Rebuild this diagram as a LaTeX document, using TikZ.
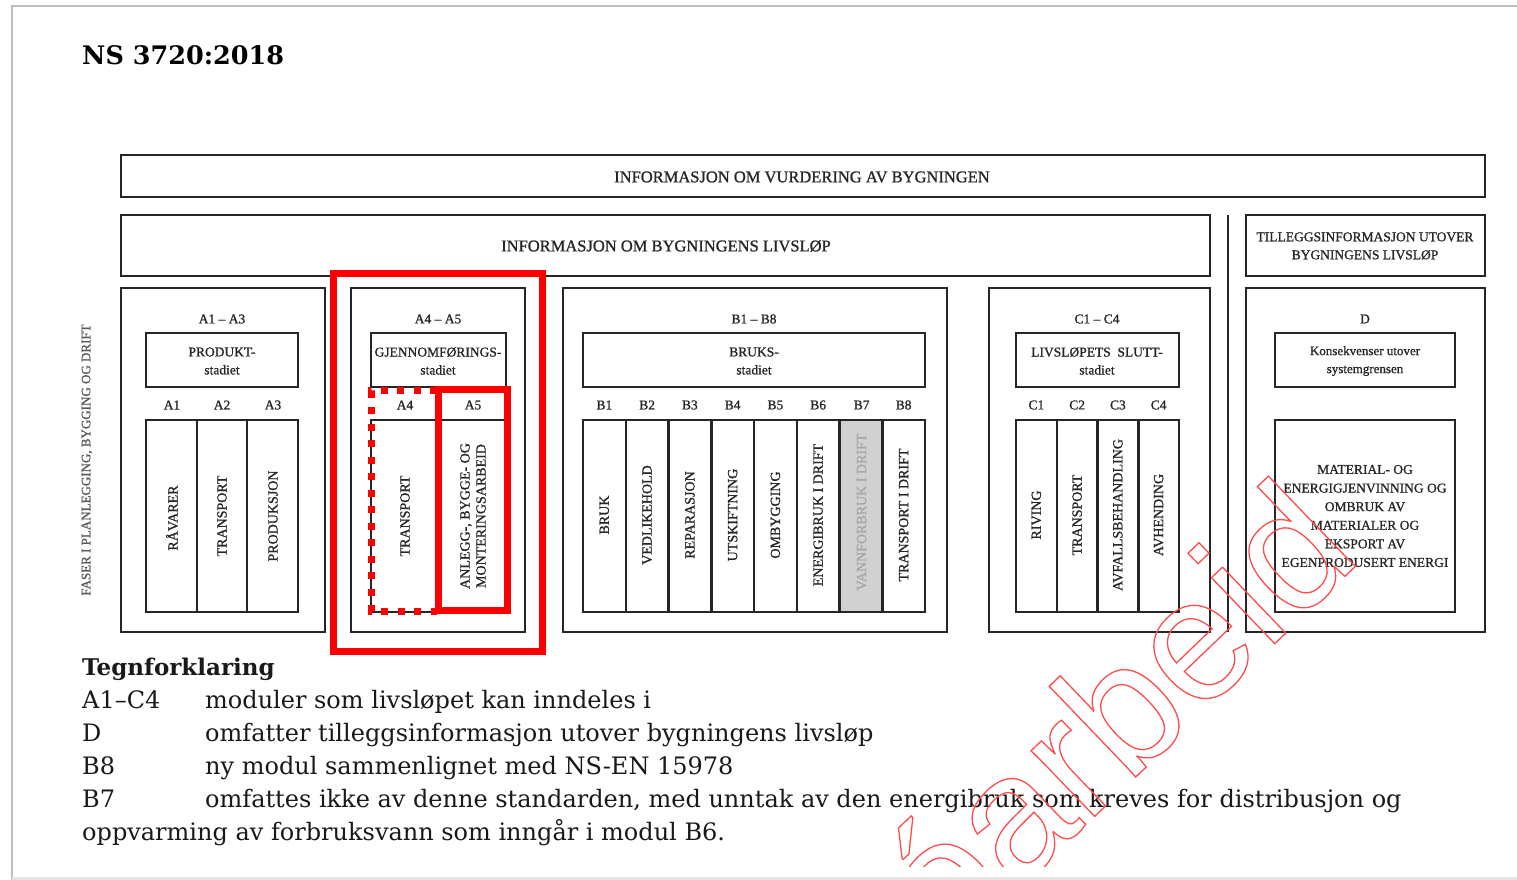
\documentclass[tikz,border=0pt]{standalone}
\usepackage{fontspec}
\setmainfont{DejaVu Serif}
\newfontfamily\dfont[RawFeature={embolden=1.0}]{Liberation Serif}
\newfontfamily\wfont{Liberation Sans}
\newcommand\wmoutline[1]{\special{pdf:literal direct 1 Tr 1.3 w}#1\special{pdf:literal direct 0 Tr}}
\begin{document}
\begin{tikzpicture}[x=1pt,y=-1pt,
  box/.style={draw=black!85,line width=2.5pt},
  dtext/.style={font=\dfont\fontsize{16.5}{19}\selectfont, text=black!85, align=center, inner sep=0pt},
  stagetext/.style={font=\dfont\fontsize{13.5}{18}\selectfont, text=black!85, align=center, inner sep=0pt},
  vtext/.style={rotate=90, font=\dfont\fontsize{14}{16}\selectfont, text=black!85, align=center, inner sep=0pt},
  redbox/.style={draw=red, line width=6.5pt},
  legtext/.style={font=\fontsize{24}{33}\selectfont, anchor=base west, inner sep=0pt, text=black!90}
]
\useasboundingbox (0,0) rectangle (1517,880);
\fill[white] (0,0) rectangle (1517,880);
% page frame
\draw[black!25, line width=1.5pt] (12,880) -- (12,6) -- (1517,6);
\draw[black!10, line width=3pt] (12,878) -- (1517,878);

% title
\node[anchor=base west, inner sep=0pt, font=\bfseries\fontsize{25.5}{28}\selectfont] (title) at (82,65) {NS 3720:2018};

% top boxes
\draw[box] (121,155) rectangle (1485,197);
\node[dtext] (info1) at (802,177) {INFORMASJON OM VURDERING AV BYGNINGEN};
\draw[box] (121,215) rectangle (1210,276);
\node[dtext] (info2) at (666,246) {INFORMASJON OM BYGNINGENS LIVSLØP};
\draw[box] (1246,215) rectangle (1485,276);
\node[stagetext] (tillegg) at (1365,246) {TILLEGGSINFORMASJON UTOVER\\BYGNINGENS LIVSLØP};
\draw[black!85, line width=2pt] (1228,215) -- (1228,632);

% left vertical text
\node[rotate=90, font=\dfont\fontsize{13}{14}\selectfont, text=black!65, inner sep=0pt] (faser) at (87,460) {FASER I PLANLEGGING, BYGGING OG DRIFT};

% module frames
\draw[box] (121,288) rectangle (325,632);
\draw[box] (351,288) rectangle (525,632);
\draw[box] (563,288) rectangle (947,632);
\draw[box] (989,288) rectangle (1210,632);
\draw[box] (1246,288) rectangle (1485,632);

% ---- A1-A3
\node[stagetext] (ha) at (222,319) {A1 – A3};
\draw[box] (146,333) rectangle (298,387);
\node[stagetext] (prod) at (222,361) {PRODUKT-\\stadiet};
\draw[box] (146,420) rectangle (298,612);
\draw[box] (197,420) -- (197,612);
\draw[box] (247,420) -- (247,612);
\node[stagetext] (a1) at (172,405) {A1};
\node[stagetext] (a2) at (222,405) {A2};
\node[stagetext] (a3) at (273,405) {A3};
\node[vtext] (ta1) at (172,518) {RÅVARER};
\node[vtext] (ta2) at (222,516) {TRANSPORT};
\node[vtext] (ta3) at (273,516) {PRODUKSJON};

% ---- A4-A5
\node[stagetext] (hb) at (438,319) {A4 – A5};
\draw[box] (371,333) rectangle (506,387);
\node[stagetext] (gjen) at (438,361) {GJENNOMFØRINGS-\\stadiet};
\draw[box] (371,420) rectangle (506,612);
\draw[box] (437,420) -- (437,612);
\node[stagetext] (a4) at (405,405) {A4};
\node[stagetext] (a5) at (473,405) {A5};
\node[vtext] (ta4) at (405,516) {TRANSPORT};
\node[vtext] (ta5) at (473,516) {ANLEGG-, BYGGE- OG\\MONTERINGSARBEID};

% ---- B1-B8
\node[stagetext] (hc) at (754,319) {B1 – B8};
\draw[box] (583,333) rectangle (925,387);
\node[stagetext] (bruks) at (754,361) {BRUKS-\\stadiet};
\fill[black!18] (840,420) rectangle (883,612);
\draw[box] (583,420) rectangle (925,612);
\foreach \k in {1,...,7} \draw[box] ({583+42.75*\k},420) -- ({583+42.75*\k},612);
\foreach \lab/\txt [count=\i] in {B1/BRUK, B2/VEDLIKEHOLD, B3/REPARASJON, B4/UTSKIFTNING, B5/OMBYGGING, B6/ENERGIBRUK I DRIFT, B8/TRANSPORT I DRIFT} {
  \pgfmathsetmacro\cx{583+42.75*(\i-0.5+(\i>6))}
  \node[stagetext] (bl\i) at (\cx,405) {\lab};
  \node[vtext] (bt\i) at (\cx,515) {\txt};
}
\node[stagetext] (bl7) at (861.6,405) {B7};
\node[vtext, text=black!35] (bt7) at (861.6,512) {VANNFORBRUK I DRIFT};

% ---- C1-C4
\node[stagetext] (hd) at (1097,319) {C1 – C4};
\draw[box] (1016,333) rectangle (1179,387);
\node[stagetext] (livs) at (1097,361) {LIVSLØPETS\ \ SLUTT-\\stadiet};
\draw[box] (1016,420) rectangle (1179,612);
\foreach \k in {1,2,3} \draw[box] ({1016+40.75*\k},420) -- ({1016+40.75*\k},612);
\foreach \lab/\txt [count=\i] in {C1/RIVING, C2/TRANSPORT, C3/AVFALLSBEHANDLING, C4/AVHENDING} {
  \pgfmathsetmacro\cx{1016+40.75*(\i-0.5)}
  \node[stagetext] (cl\i) at (\cx,405) {\lab};
  \node[vtext] (ct\i) at (\cx,515) {\txt};
}

% ---- D
\node[stagetext] (he) at (1365,319) {D};
\draw[box] (1275,333) rectangle (1455,387);
\node[stagetext, font=\dfont\fontsize{13}{18}\selectfont] (kons) at (1365,361) {Konsekvenser utover\\systemgrensen};
\draw[box] (1275,420) rectangle (1455,612);
\node[stagetext, font=\dfont\fontsize{13.5}{18.6}\selectfont] (dtxt) at (1365,516) {MATERIAL- OG\\ENERGIGJENVINNING OG\\OMBRUK AV\\MATERIALER OG\\EKSPORT AV\\EGENPRODUSERT ENERGI};

% ---- red highlights
\draw[redbox] (333.5,273.5) rectangle (542.5,651.5);
\draw[draw=red, line width=7pt, dash pattern=on 7pt off 9.5pt] (437,390.5) -- (371,390.5) -- (371,611.5) -- (437,611.5);
\draw[redbox] (438.5,389.5) rectangle (507.5,610.5);

% ---- legend
\node[legtext, font=\bfseries\fontsize{23}{33}\selectfont] (leg) at (82,675) {Tegnforklaring};
\node[legtext] (l1a) at (82,708) {A1–C4};
\node[legtext] (l1b) at (205,708) {moduler som livsløpet kan inndeles i};
\node[legtext] (l2a) at (82,741) {D};
\node[legtext] (l2b) at (205,741) {omfatter tilleggsinformasjon utover bygningens livsløp};
\node[legtext] (l3a) at (82,774) {B8};
\node[legtext] (l3b) at (205,774) {ny modul sammenlignet med NS-EN 15978};
\node[legtext] (l4a) at (82,807) {B7};
\node[legtext] (l4b) at (205,807) {omfattes ikke av denne standarden, med unntak av den energibruk som kreves for distribusjon og};
\node[legtext] (l5) at (82,840) {oppvarming av forbruksvann som inngår i modul B6.};

% ---- watermark
\begin{scope}
\clip (0,0) rectangle (1517,866);
\node[rotate=43.8, anchor=base west, inner sep=0pt, text=red!70, font=\wfont\fontsize{173}{173}\selectfont] (wm) at (947,958) {\wmoutline{óarbeid}};
\end{scope}
\end{tikzpicture}
\end{document}
